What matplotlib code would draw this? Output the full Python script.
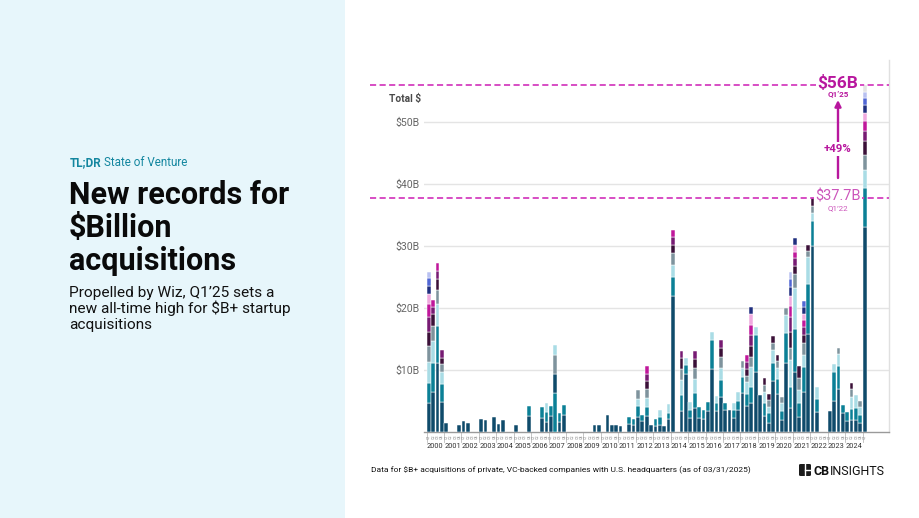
import matplotlib
matplotlib.use('Agg')
import matplotlib.pyplot as plt
from matplotlib.patches import Rectangle, FancyBboxPatch
from matplotlib import transforms

plt.rcParams['font.family'] = ['Roboto', 'DejaVu Sans']

# ---------------- data: $B+ deal sizes per quarter (stacked, $B) ----------------
y2000 = [[4.6, 3.35, 3.35, 2.6, 2.3, 2.3, 2.1, 1.7, 1.3, 1.2, 1.0],
         [6.5, 4.7, 3.5, 2.4, 1.9, 1.1, 1.2],
         [11.1, 6.0, 3.5, 2.3, 1.7, 1.3, 1.3],
         [4.9, 2.8, 2.0, 1.3, 1.0, 1.2]]
y2001 = [[1.5], [], [], [1.1]]
y2002 = [[1.8], [1.45], [], []]
y2003 = [[2.1], [1.9], [], [2.4]]
y2004 = [[1.3], [1.9], [], []]
y2005 = [[1.1], [], [], [2.6, 1.6]]
y2006 = [[], [], [2.3, 1.8], [1.6, 1.7, 1.3]]
y2007 = [[2.6, 1.6], [6.3, 3.1, 3.1, 1.6], [1.6, 1.4], [2.7, 1.7]]
y2008 = [[], [], [], []]
y2009 = [[], [], [1.2], [1.2]]
y2010 = [[], [2.7], [1.2], [1.2]]
y2011 = [[1.0], [], [1.3, 1.1], [1.1, 1.0]]
y2012 = [[2.5, 1.7, 1.2, 1.45], [1.7, 1.1], [2.6, 1.5, 1.35, 1.45, 1.25, 1.25, 1.2], [1.2]]
y2013 = [[1.0, 1.1], [1.2, 1.2, 1.1], [1.0], [2.1, 1.0, 1.4]]
y2014 = [[21.9, 3.1, 2.0, 1.8, 1.4, 1.2, 1.2], [], [3.4, 2.6, 2.4, 1.8, 1.8, 1.0], [9.4, 1.4, 1.2]]
y2015 = [[2.3, 1.3, 1.3], [3.9, 2.4, 2.2, 1.8, 1.5, 1.2], [2.2, 1.9], [2.1, 1.4]]
y2016 = [[3.4, 1.5], [10.2, 4.6, 1.4], [3.4, 1.3, 1.1], [5.6, 2.8, 2.0, 1.65, 1.45, 1.3]]
y2017 = [[3.5, 1.2], [3.5], [2.25, 1.3, 1.2], [3.6, 1.4, 1.4]]
y2018 = [[6.3, 2.6, 1.5, 1.0], [4.2, 2.0, 1.8, 1.0, 1.2, 1.1, 1.1],
         [4.7, 2.6, 3.2, 1.6, 1.7, 1.9, 1.6, 1.7, 1.2], [9.6, 6.0, 1.4]]
y2019 = [[6.0], [2.6, 2.15, 1.7, 1.2, 1.0], [1.5, 1.6, 1.0, 1.0, 1.0], [8.2, 3.0, 2.0, 1.1, 1.2]]
y2020 = [[6.2, 2.3, 1.8, 1.1, 1.1], [2.0, 1.4, 1.3, 1.0], [11.1, 4.9, 2.9, 1.1],
         [3.8, 3.5, 4.3, 1.9, 2.7, 2.4, 1.7, 1.6, 1.5, 1.3, 1.1]]
y2021 = [[9.6, 7.0, 6.6, 2.3, 1.3, 1.2, 1.1, 1.1, 1.1], [2.5, 2.15, 2.15, 1.9, 1.9],
         [6.5, 4.0, 1.9, 1.9, 1.3, 1.3, 1.1, 1.1, 1.1, 1.0], [15.8, 8.0, 4.4, 1.0, 1.0]]
y2022 = [[30.0, 4.0, 1.4, 1.1, 1.2], [3.3, 2.0, 2.0], [], []]
y2023 = [[3.4], [5.0, 4.6, 1.4], [7.0, 3.6, 2.0, 1.0], [3.1, 1.2]]
y2024 = [[1.8, 1.5], [1.9, 1.8, 1.9, 1.3, 1.0], [1.9, 2.0, 2.1], [1.5, 1.3, 1.2, 1.0]]
y2025 = [[33.0, 6.3, 2.9, 2.5, 2.3, 1.6, 1.6, 1.3, 1.3, 1.1, 1.0, 1.0]]

years = list(range(2000, 2026))
quarter_names = ['Q1', 'Q2', 'Q3', 'Q4']
ytick_values = [10, 20, 30, 40, 50]
ytick_labels = ['$10B', '$20B', '$30B', '$40B', '$50B']
record_value, record_label = 56.0, 'Q1\u201925'
prev_value, prev_label = 37.7, 'Q1\u201922'
growth_label = '+49%'

quarters = (y2000 + y2001 + y2002 + y2003 + y2004 + y2005 + y2006 + y2007 + y2008 +
            y2009 + y2010 + y2011 + y2012 + y2013 + y2014 + y2015 + y2016 + y2017 +
            y2018 + y2019 + y2020 + y2021 + y2022 + y2023 + y2024 + y2025)

# ---------------- style ----------------
palette = ['#0f4b6b', '#0b8096', '#a9dce5', '#7e939d', '#3b1038', '#771b73',
           '#c0179b', '#f0a9df', '#1f2e7e', '#5167d4', '#b9c1f1', '#e3e3e3']
color_overrides = {29: [1, 0, 3, 2]}
MAG = '#b8179e'
MAG_LIGHT = '#cc55bb'
DASH = '#d43fbf'

W, H = 920, 518
fig = plt.figure(figsize=(W / 100, H / 100), dpi=100)


def fx(x):
    return x / W


def fy(y):
    return 1 - y / H


# left panel
fig.patches.append(Rectangle((0, 0), fx(345), 1, transform=fig.transFigure,
                             facecolor='#e7f6fb', edgecolor='none', zorder=0))

PX_PER_B = 6.2
X0, DX = 428.7, 4.36
ax_left, ax_right, ax_top, ax_bot = 424, 889, 60, 432
ax = fig.add_axes([fx(ax_left), fy(ax_bot), fx(ax_right) - fx(ax_left), fy(ax_top) - fy(ax_bot)])
ax.set_facecolor('none')
ax.set_ylim(0, (ax_bot - ax_top) / PX_PER_B)
ax.set_xlim((ax_left - X0) / DX, (ax_right - X0) / DX)

for i, deals in enumerate(quarters):
    order = color_overrides.get(i, list(range(len(deals))))
    bottom = 0.0
    for j, v in enumerate(deals):
        ax.bar(i, v, bottom=bottom, width=0.86, color=palette[order[j] % len(palette)],
               edgecolor='white', linewidth=0.35, zorder=3)
        bottom += v

ax.set_yticks(ytick_values)
ax.set_yticklabels(ytick_labels)
ax.tick_params(axis='y', length=0, pad=3.5, labelsize=7.6, labelcolor='#666666')
ax.set_xticks([])
ax.grid(axis='y', color='#e4e4e4', linewidth=1.0, zorder=0)
ax.set_axisbelow(True)
for s in ['top', 'left']:
    ax.spines[s].set_visible(False)
ax.spines['right'].set_color('#e0e0e0')
ax.spines['right'].set_linewidth(1.0)
ax.spines['bottom'].set_color('#9a9a9a')
ax.spines['bottom'].set_linewidth(1.0)

# quarter labels, year separators, year labels
tr_xfig = transforms.blended_transform_factory(ax.transData, fig.transFigure)
n_q = len(quarters)
for i in range(n_q):
    ax.text(i, fy(437), quarter_names[i % 4], transform=tr_xfig, rotation=90,
            fontsize=2.6, color='#8a8a8a', ha='center', va='center', clip_on=False)
for k, yr in enumerate(years):
    xb = 4 * k - 0.5
    ax.plot([xb, xb], [fy(432), fy(442)], transform=tr_xfig, color='#bdbdbd',
            linewidth=0.6, clip_on=False)
    if 4 * k + 3 < n_q:
        ax.text(4 * k + 1.5, fy(446), str(yr), transform=tr_xfig, fontsize=5.3,
                color='#333333', ha='center', va='center', clip_on=False)

# "Total $"
fig.text(fx(421), fy(99), 'Total $', fontsize=7.3, fontweight='bold', color='#4a4a4a',
         ha='right', va='center', parse_math=False)

# dashed reference lines
tr_yfig = transforms.blended_transform_factory(fig.transFigure, ax.transData)
for val in (record_value, prev_value):
    ax.plot([fx(370), fx(889)], [val, val], transform=tr_yfig, color=DASH,
            linewidth=1.3, dashes=(3.4, 1.9), clip_on=False, zorder=4)

lx = 838
fig.text(fx(lx), fy(83), '$' + '56B', fontsize=12.5, fontweight='bold', color=MAG,
         ha='center', va='center', parse_math=False, zorder=6,
         bbox=dict(facecolor='white', edgecolor='none', pad=1.2))
fig.text(fx(lx), fy(94), record_label, fontsize=5.8, fontweight='bold', color=MAG,
         ha='center', va='center', zorder=6)
fig.text(fx(lx), fy(197), '$' + '37.7B', fontsize=10.5, color=MAG_LIGHT,
         ha='center', va='center', parse_math=False, zorder=6,
         bbox=dict(facecolor='white', edgecolor='none', pad=1.0))
fig.text(fx(lx), fy(208), prev_label, fontsize=5.8, color=MAG_LIGHT,
         ha='center', va='center', zorder=6)
ax.annotate('', xy=(fx(lx), fy(100)), xytext=(fx(lx), fy(178)),
            xycoords='figure fraction', textcoords='figure fraction',
            arrowprops=dict(arrowstyle='-|>', color=MAG, lw=1.7, mutation_scale=9,
                            shrinkA=0, shrinkB=0), zorder=5)
fig.text(fx(lx), fy(149), growth_label, fontsize=8.2, fontweight='bold', color=MAG,
         ha='center', va='center', zorder=6,
         bbox=dict(facecolor='white', edgecolor='none', pad=1.5))

# left panel text
TEAL_T = '#13869f'
t1 = fig.text(fx(70), fy(166), 'TL;DR', fontsize=8.4, fontweight='bold', color=TEAL_T,
              ha='left', va='baseline')
fig.canvas.draw()
bb = t1.get_window_extent()
fig.text((bb.x1 + 2.5) / W, fy(166), 'State of Venture', fontsize=8.4, color=TEAL_T,
         ha='left', va='baseline')

title_lines = ['New records for', '$Billion', 'acquisitions']
for k, line in enumerate(title_lines):
    fig.text(fx(69), fy(204 + 33 * k), line, fontsize=22, fontweight='bold',
             color='#0a0a0a', ha='left', va='baseline', parse_math=False)

sub_lines = ['Propelled by Wiz, Q1\u201925 sets a', 'new all-time high for $B+ startup',
             'acquisitions']
for k, line in enumerate(sub_lines):
    fig.text(fx(69), fy(297.5 + 15.5 * k), line, fontsize=11.1, color='#111111',
             ha='left', va='baseline', parse_math=False)

# footnote
fig.text(fx(371), fy(470), 'Data for $B+ acquisitions of private, VC-backed companies with '
         'U.S. headquarters (as of 03/31/2025)', fontsize=6.05, color='#111111',
         ha='left', va='center', parse_math=False)

# logo
icon = FancyBboxPatch((fx(799), fy(476)), fx(12), fx(12) * W / H,
                      boxstyle='round,pad=0,rounding_size=0.002',
                      transform=fig.transFigure, facecolor='#1b1b1b', edgecolor='none')
fig.patches.append(icon)
fig.lines.append(plt.Line2D([fx(805.5), fx(805.5)], [fy(476), fy(464)],
                            transform=fig.transFigure, color='white', lw=1.0))
fig.lines.append(plt.Line2D([fx(805.5), fx(811)], [fy(470), fy(470)],
                            transform=fig.transFigure, color='white', lw=1.0))
t_cb = fig.text(fx(813.5), fy(475), 'CB', fontsize=9.0, fontweight='bold', color='#111111',
                ha='left', va='baseline')
fig.canvas.draw()
bb = t_cb.get_window_extent()
fig.text((bb.x1 + 0.3) / W, fy(475), 'INSIGHTS', fontsize=9.0, color='#111111',
         ha='left', va='baseline')

fig.savefig('out.png', dpi=100)
